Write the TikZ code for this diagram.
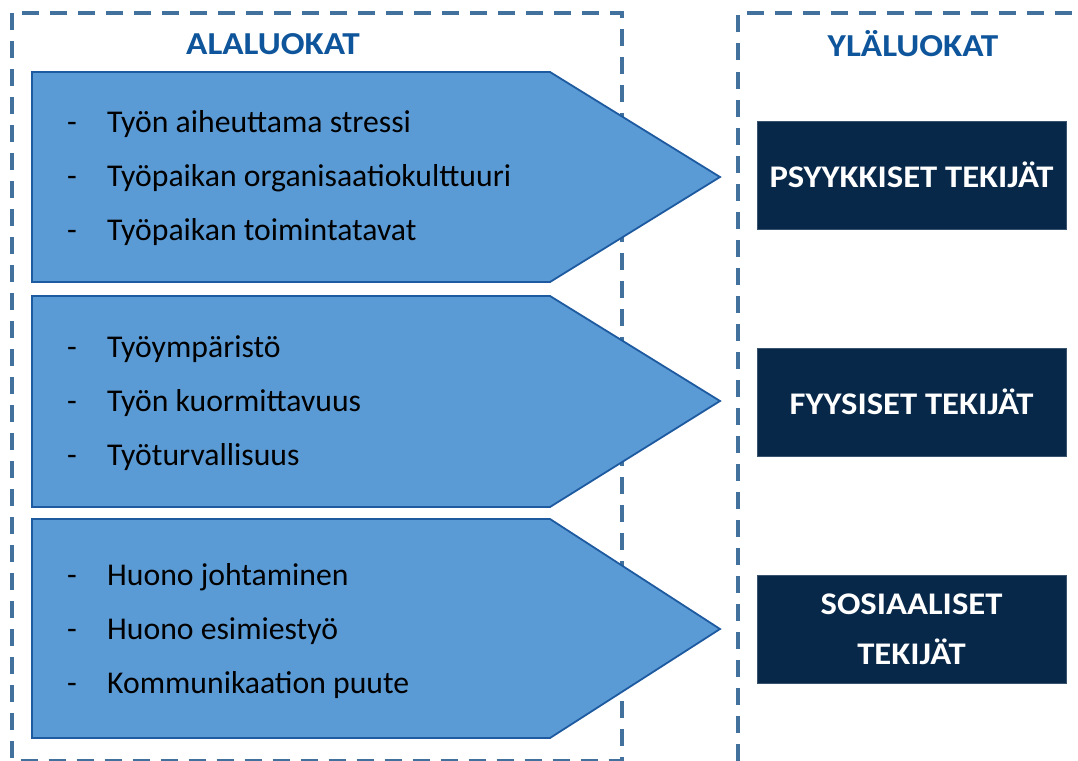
\documentclass[tikz,border=0pt]{standalone}
\usepackage{fontspec}
\setmainfont{Carlito}
\newfontfamily\widefont{Carlito}[FakeStretch=1.1]
\definecolor{dashblue}{RGB}{65,113,156}
\definecolor{chevfill}{RGB}{91,155,213}
\definecolor{chevline}{RGB}{30,90,160}
\definecolor{headblue}{RGB}{15,85,155}
\definecolor{darkbox}{RGB}{8,40,74}
\tikzset{
  dashbox/.style={draw=dashblue, line width=3.5pt, dash pattern=on 17pt off 11pt},
  chevron/.style={fill=chevfill, draw=chevline, line width=1.8pt, line join=miter},
  item/.style={anchor=base west, inner sep=0pt, font=\fontsize{31.7}{38}\selectfont, text=black},
  bullet/.style={anchor=base west, inner sep=0pt, font=\fontsize{31.7}{38}\selectfont, text=black},
  heading/.style={font=\widefont\fontsize{32}{38}\selectfont\bfseries, text=headblue},
  catbox/.style={fill=darkbox, draw=darkbox!80!white, line width=0.6pt, minimum width=309pt, minimum height=108pt, text=white, align=center, font=\widefont\fontsize{31.5}{50}\selectfont\bfseries, inner sep=0pt}
}
\begin{document}
\begin{tikzpicture}[x=1pt,y=-1pt]
\useasboundingbox (0,0) rectangle (1078,760);
\fill[white] (0,0) rectangle (1078,760);
% dashed frames
\draw[dashbox] (12,13) rectangle (622,760.5);
\draw[dashbox] (738,760.5) -- (738,13) -- (1090,13);
% headings
\node[heading] (hl) at (273,44) {ALALUOKAT};
\node[heading] (hr) at (913,44) {YLÄLUOKAT};
% chevrons
\draw[chevron] (32,72) -- (550,72) -- (720,177) -- (550,282) -- (32,282) -- cycle;
\draw[chevron] (32,296) -- (550,296) -- (720,401) -- (550,507) -- (32,507) -- cycle;
\draw[chevron] (32,519) -- (550,519) -- (720,629) -- (550,738) -- (32,738) -- cycle;
% items
\foreach \y/\t [count=\i] in {132/Työn aiheuttama stressi,186/Työpaikan organisaatiokulttuuri,240/Työpaikan toimintatavat,
  357/Työympäristö,411/Työn kuormittavuus,465/Työturvallisuus,
  585/Huono johtaminen,639/Huono esimiestyö,693/Kommunikaation puute}{
  \node[bullet] (d\i) at (67,\y) {-};
  \node[item] (t\i) at (107,\y) {\t};
}
% category boxes
\node[catbox] (b1) at (911.5,175) {PSYYKKISET TEKIJÄT};
\node[catbox] (b2) at (911.5,402) {FYYSISET TEKIJÄT};
\node[catbox] (b3) at (911.5,629.5) {SOSIAALISET\\TEKIJÄT};
\end{tikzpicture}
\end{document}
